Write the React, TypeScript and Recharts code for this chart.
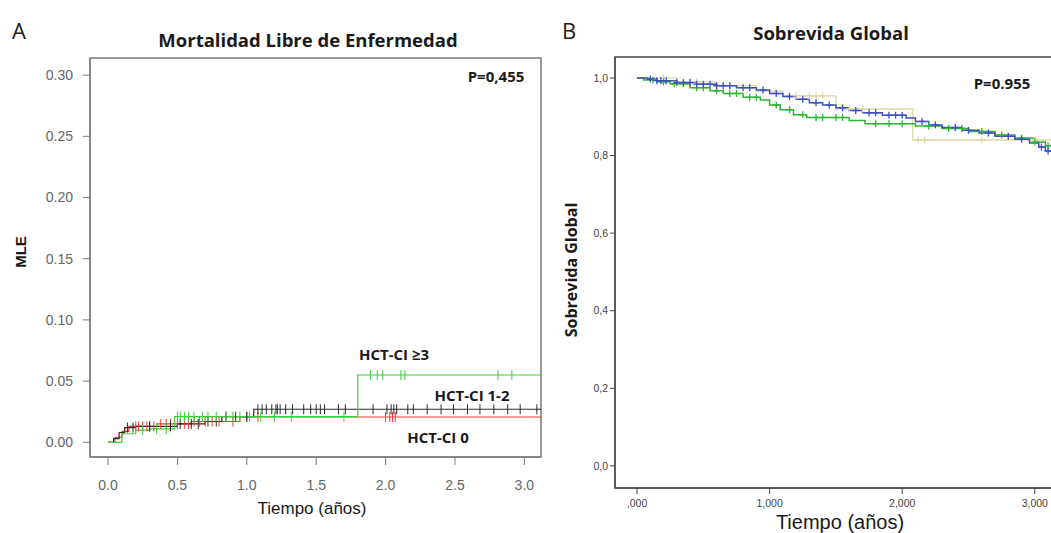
import React from "react";
import { LineChart, Line, XAxis, YAxis, ReferenceArea } from "recharts";

// ---------- Panel A: Mortalidad Libre de Enfermedad ----------
const mleTimes0 = [0, 0.05, 0.1, 0.15, 0.35, 0.6, 0.95, 3.12];
const mleVals0 = [0, 0.004, 0.009, 0.013, 0.015, 0.017, 0.0207, 0.0207];
const mleCens0 = [0.2, 0.22, 0.25, 0.28, 0.3, 0.33, 0.38, 0.42, 0.45, 0.5, 0.55, 0.58, 0.62, 0.66, 0.7, 0.75, 0.8, 0.9, 1.0, 1.08, 2.0, 2.03, 2.05, 2.07];

const mleTimes12 = [0, 0.04, 0.08, 0.12, 0.2, 0.5, 0.7, 0.82, 1.05, 3.12];
const mleVals12 = [0, 0.003, 0.008, 0.012, 0.013, 0.015, 0.017, 0.021, 0.027, 0.027];
const mleCens12 = [0.14, 0.18, 0.3, 0.45, 0.52, 0.6, 0.65, 0.72, 0.78, 0.85, 0.92, 1.0, 1.08, 1.11, 1.14, 1.18, 1.21, 1.22, 1.24, 1.28, 1.33, 1.41, 1.46, 1.5, 1.53, 1.56, 1.66, 1.71, 1.91, 2.01, 2.04, 2.06, 2.08, 2.16, 2.2, 2.3, 2.4, 2.49, 2.59, 2.68, 2.78, 2.88, 2.97, 3.09];

const mleTimes3 = [0, 0.1, 0.2, 0.3, 0.48, 1.8, 3.12];
const mleVals3 = [0, 0.007, 0.01, 0.011, 0.021, 0.055, 0.055];
const mleCens3 = [0.25, 0.35, 0.42, 0.5, 0.52, 0.55, 0.58, 0.62, 0.68, 0.72, 0.78, 0.85, 0.9, 0.95, 1.02, 1.1, 1.2, 1.32, 1.7, 1.89, 1.94, 1.98, 2.11, 2.14, 2.81, 2.91];

const mleYTicks = [0, 0.05, 0.1, 0.15, 0.2, 0.25, 0.3];
const mleXTicks = [0, 0.5, 1, 1.5, 2, 2.5, 3];

// ---------- Panel B: Sobrevida Global ----------
const sgTimesBlue = [0, 0.08, 0.15, 0.3, 0.45, 0.6, 0.75, 0.9, 1.0, 1.1, 1.2, 1.3, 1.4, 1.5, 1.6, 1.7, 1.85, 2.03, 2.1, 2.2, 2.3, 2.45, 2.58, 2.7, 2.85, 2.96, 3.03, 3.08, 3.2];
const sgValsBlue = [1, 0.997, 0.993, 0.988, 0.984, 0.98, 0.975, 0.969, 0.96, 0.952, 0.945, 0.936, 0.93, 0.923, 0.916, 0.91, 0.904, 0.897, 0.888, 0.879, 0.872, 0.865, 0.858, 0.85, 0.842, 0.832, 0.822, 0.812, 0.812];
const sgCensBlue = [0.1, 0.15, 0.18, 0.22, 0.3, 0.35, 0.4, 0.45, 0.5, 0.55, 0.6, 0.65, 0.7, 0.8, 0.85, 0.95, 1.05, 1.15, 1.25, 1.35, 1.45, 1.55, 1.65, 1.75, 1.8, 1.9, 1.95, 2.0, 2.15, 2.25, 2.4, 2.5, 2.65, 2.8, 2.9, 3.05, 3.1];

const sgTimesGreen = [0, 0.05, 0.15, 0.25, 0.4, 0.55, 0.65, 0.8, 0.93, 1.0, 1.08, 1.18, 1.28, 1.6, 1.72, 2.1, 2.3, 2.5, 2.7, 2.85, 3.0, 3.08, 3.2];
const sgValsGreen = [1, 0.995, 0.99, 0.985, 0.975, 0.967, 0.96, 0.95, 0.943, 0.93, 0.918, 0.905, 0.898, 0.89, 0.882, 0.876, 0.87, 0.862, 0.853, 0.845, 0.835, 0.825, 0.825];
const sgCensGreen = [0.12, 0.2, 0.28, 0.35, 0.45, 0.5, 0.6, 0.7, 0.75, 0.85, 0.9, 1.05, 1.15, 1.25, 1.35, 1.4, 1.5, 1.55, 1.8, 1.9, 2.0, 2.2, 2.35, 2.45, 2.6, 2.75, 2.9, 3.0, 3.1];

const sgTimesKhaki = [0, 0.3, 0.6, 0.9, 1.1, 1.5, 2.08, 3.2];
const sgValsKhaki = [1, 0.99, 0.98, 0.966, 0.954, 0.92, 0.84, 0.84];
const sgCensKhaki = [0.2, 0.4, 0.45, 0.7, 1.2, 1.3, 1.35, 1.4, 1.6, 1.7, 2.12, 2.17, 2.6, 3.0];

const sgYTicks = [0, 0.2, 0.4, 0.6, 0.8, 1.0];
const sgYLabels = ["0,0", "0,2", "0,4", "0,6", "0,8", "1,0"];
const sgXTicks = [0, 1, 2, 3];
const sgXLabels = [",000", "1,000", "2,000", "3,000"];

type Pt = { t: number; v: number; c: boolean };

function buildSeries(times: number[], vals: number[], cens: number[]): Pt[] {
  const at = (t: number) => {
    let v = vals[0];
    for (let i = 0; i < times.length; i++) if (times[i] <= t) v = vals[i];
    return v;
  };
  const pts: Pt[] = times.map((t, i) => ({ t, v: vals[i], c: false }));
  cens.forEach((t) => pts.push({ t, v: at(t), c: true }));
  pts.sort((a, b) => a.t - b.t || (a.c ? 1 : 0) - (b.c ? 1 : 0));
  return pts;
}

const tickDot = (color: string, kind: "bar" | "plus") => (props: any) => {
  const { cx, cy, payload, index } = props;
  if (!payload || !payload.c || cx == null || cy == null) return <g key={"d" + index} />;
  if (kind === "bar")
    return <line key={"d" + index} x1={cx} x2={cx} y1={cy - 5} y2={cy + 5} stroke={color} strokeWidth={1} />;
  return (
    <g key={"d" + index}>
      <line x1={cx} x2={cx} y1={cy - 3.5} y2={cy + 3.5} stroke={color} strokeWidth={1.3} />
      <line x1={cx - 3.5} x2={cx + 3.5} y1={cy} y2={cy} stroke={color} strokeWidth={1.3} />
    </g>
  );
};

const RED = "#f23a3a";
const BLACK = "#2b2b2b";
const GREEN_A = "#3ccf3c";
const BLUE = "#3d4fc0";
const GREEN_B = "#2fb535";
const KHAKI = "#dcd8a6";

const OPEN = "'Open Sans', Lato, sans-serif";
const ARIAL = "'Liberation Sans', Arial, sans-serif";

const Txt = (p: { x: number; y: number; size: number; bold?: boolean; family?: string; rot?: boolean; color?: string; children: React.ReactNode }) => (
  <div
    style={{
      position: "absolute",
      left: p.x,
      top: p.y,
      transform: `translate(-50%, -50%)${p.rot ? " rotate(-90deg)" : ""}`,
      fontSize: p.size,
      fontWeight: p.bold ? 700 : 400,
      fontFamily: p.family || OPEN,
      color: p.color || "#1a1a1a",
      whiteSpace: "nowrap",
      lineHeight: 1,
    }}
  >
    {p.children}
  </div>
);

const A_X = [-0.13, 3.12];
const A_Y = [-0.012, 0.314];
const B_X = [-0.166, 3.19];
const B_Y = [-0.057, 1.054];

export default function App() {
  const s0 = buildSeries(mleTimes0, mleVals0, mleCens0);
  const s12 = buildSeries(mleTimes12, mleVals12, mleCens12);
  const s3 = buildSeries(mleTimes3, mleVals3, mleCens3);
  const bBlue = buildSeries(sgTimesBlue, sgValsBlue, sgCensBlue);
  const bGreen = buildSeries(sgTimesGreen, sgValsGreen, sgCensGreen);
  const bKhaki = buildSeries(sgTimesKhaki, sgValsKhaki, sgCensKhaki);

  return (
    <div style={{ position: "absolute", left: 0, top: 0, width: 1051, height: 533, overflow: "hidden", background: "#fff" }}>
      {/* Panel A */}
      <div style={{ position: "absolute", left: 0, top: 0 }}>
        <LineChart width={550} height={533} margin={{ top: 58, right: 9, bottom: 46, left: 30 }}>
          <XAxis
            type="number"
            dataKey="t"
            domain={A_X}
            allowDataOverflow
            ticks={mleXTicks}
            tickFormatter={(v: number) => v.toFixed(1)}
            tickSize={8}
            tickMargin={15}
            height={30}
            stroke="#777"
            tick={{ fill: "#666", fontSize: 14, fontFamily: ARIAL }}
          />
          <YAxis
            type="number"
            domain={A_Y}
            allowDataOverflow
            ticks={mleYTicks}
            tickFormatter={(v: number) => v.toFixed(2)}
            tickSize={7}
            tickMargin={10}
            width={60}
            stroke="#777"
            tick={{ fill: "#666", fontSize: 14, fontFamily: ARIAL }}
          />
          <ReferenceArea x1={A_X[0]} x2={A_X[1]} y1={A_Y[0]} y2={A_Y[1]} fill="none" stroke="#777" strokeWidth={1.5} fillOpacity={0} />
          <Line data={s0} dataKey="v" type="stepAfter" stroke={RED} strokeWidth={1.2} dot={tickDot(RED, "bar")} activeDot={false} isAnimationActive={false} />
          <Line data={s12} dataKey="v" type="stepAfter" stroke={BLACK} strokeWidth={1.2} dot={tickDot(BLACK, "bar")} activeDot={false} isAnimationActive={false} />
          <Line data={s3} dataKey="v" type="stepAfter" stroke={GREEN_A} strokeWidth={1.2} dot={tickDot(GREEN_A, "bar")} activeDot={false} isAnimationActive={false} />
        </LineChart>
      </div>

      {/* Panel B */}
      <div style={{ position: "absolute", left: 550, top: 0 }}>
        <LineChart width={520} height={533} margin={{ top: 57, right: 10, bottom: 15, left: 25 }}>
          <XAxis
            type="number"
            dataKey="t"
            domain={B_X}
            allowDataOverflow
            ticks={sgXTicks}
            tickFormatter={(v: number) => sgXLabels[sgXTicks.indexOf(v)]}
            tickSize={6}
            tickMargin={6}
            height={30}
            stroke="#444"
            tick={{ fill: "#444", fontSize: 10.5, fontFamily: ARIAL }}
          />
          <YAxis
            type="number"
            domain={B_Y}
            allowDataOverflow
            ticks={sgYTicks}
            tickFormatter={(v: number) => sgYLabels[sgYTicks.indexOf(v)]}
            tickSize={5}
            tickMargin={2}
            width={40}
            stroke="#444"
            tick={{ fill: "#444", fontSize: 10.5, fontFamily: ARIAL }}
          />
          <ReferenceArea x1={B_X[0]} x2={B_X[1]} y1={B_Y[0]} y2={B_Y[1]} fill="none" stroke="#444" strokeWidth={1.5} fillOpacity={0} />
          <Line data={bKhaki} dataKey="v" type="stepAfter" stroke={KHAKI} strokeWidth={1.3} dot={tickDot(KHAKI, "plus")} activeDot={false} isAnimationActive={false} />
          <Line data={bGreen} dataKey="v" type="stepAfter" stroke={GREEN_B} strokeWidth={1.5} dot={tickDot(GREEN_B, "plus")} activeDot={false} isAnimationActive={false} />
          <Line data={bBlue} dataKey="v" type="stepAfter" stroke={BLUE} strokeWidth={1.5} dot={tickDot(BLUE, "plus")} activeDot={false} isAnimationActive={false} />
        </LineChart>
      </div>

      {/* Texts */}
      <Txt x={19} y={30} size={22}>A</Txt>
      <Txt x={308} y={40} size={18.5} bold>Mortalidad Libre de Enfermedad</Txt>
      <Txt x={496} y={76} size={15} bold>P=0,455</Txt>
      <Txt x={20} y={252} size={15} bold rot family={ARIAL}>MLE</Txt>
      <Txt x={312} y={508} size={17} family={ARIAL}>Tiempo (años)</Txt>
      <Txt x={394} y={354} size={15} bold>HCT-CI ≥3</Txt>
      <Txt x={472} y={395} size={15} bold>HCT-CI 1-2</Txt>
      <Txt x={438} y={437} size={15} bold>HCT-CI 0</Txt>

      <Txt x={569} y={30} size={22}>B</Txt>
      <Txt x={831} y={33} size={18.5} bold>Sobrevida Global</Txt>
      <Txt x={1002} y={83} size={15} bold>P=0.955</Txt>
      <Txt x={571} y={270} size={16} bold rot>Sobrevida Global</Txt>
      <Txt x={840} y={522} size={20} family={ARIAL}>Tiempo (años)</Txt>
    </div>
  );
}
